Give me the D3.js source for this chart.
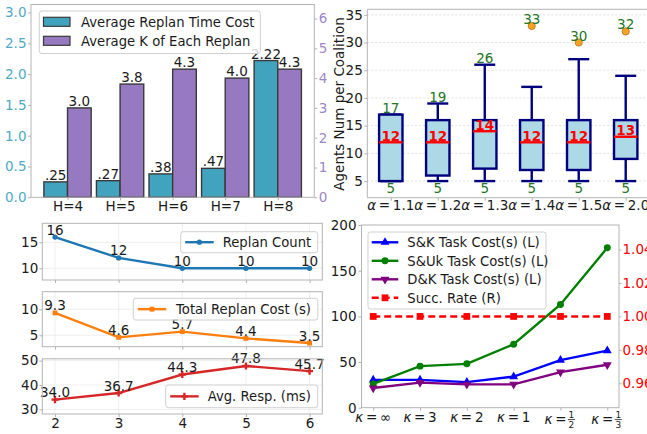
<!DOCTYPE html>
<html>
<head>
<meta charset="utf-8">
<script src="https://cdn.jsdelivr.net/npm/d3@7"></script>
<style>
  html, body { margin: 0; padding: 0; background: #fff; overflow: hidden; }
  svg { display: block; }
</style>
</head>
<body>
<svg id="chart" width="647" height="434"></svg>
<script>
// ---------- data ----------
// (a) replan time cost vs. average K per replan, by horizon H
const horizonLabels = ["H=4", "H=5", "H=6", "H=7", "H=8"];
const replanTimeCost = [0.25, 0.27, 0.38, 0.47, 2.22];
const replanTimeText = [".25", ".27", ".38", ".47", "2.22"];
const avgKPerReplan = [3.0, 3.8, 4.3, 4.0, 4.3];
const timeTicks = [0, 0.5, 1.0, 1.5, 2.0, 2.5, 3.0];
const kTicks = [0, 1, 2, 3, 4, 5, 6];

// (b) agents per coalition for each alpha
const alphaValues = ["1.1", "1.2", "1.3", "1.4", "1.5", "2.0"];
const coalMin = [5, 5, 5, 5, 5, 5];
const coalQ1 = [5, 6, 7.25, 7, 7, 9];
const coalMedian = [12, 12, 14, 12, 12, 13];
const coalQ3 = [17, 16, 16, 16, 16, 16];
const coalMax = [17, 19, 26, 22, 27, 24];
const coalOutliers = [[], [], [], [33], [30], [32]];
const coalTicks = [5, 10, 15, 20, 25, 30, 35];

// (c) replanning statistics vs. step
const stepValues = [2, 3, 4, 5, 6];
const replanCount = [16, 12, 10, 10, 10];
const totalReplanCost = [9.3, 4.6, 5.7, 4.4, 3.5];
const avgResponse = [34.0, 36.7, 44.3, 47.8, 45.7];

// (d) task cost and success rate vs. kappa
const kappaLabels = ["∞", "3", "2", "1", "1/2", "1/3"];
const skCost = [30.5, 30.5, 28, 34, 52, 62.5];
const sukCost = [26, 45.5, 48, 69.5, 113, 175];
const dkCost = [21.5, 27.5, 25.5, 25.5, 39, 47];
const succRate = [1, 1, 1, 1, 1, 1];
const costTicks = [0, 50, 100, 150, 200];
const rateTicks = [0.96, 0.98, 1.00, 1.02, 1.04];

// ---------- shared styling ----------
const FONT = "'DejaVu Sans', sans-serif";
const SPINE = "#b3b3b3";
const INK = "#1a1a1a";
const FS = 13.5;

const svg = d3.select("#chart");
svg.append("rect").attr("width", 647).attr("height", 434).attr("fill", "#fff");

function drawAxis(axisGen, transform, color, size) {
  const g = svg.append("g").attr("transform", transform).call(axisGen);
  g.select(".domain").remove();
  g.selectAll(".tick line").attr("stroke", SPINE).attr("stroke-width", 1);
  g.selectAll(".tick text")
    .attr("fill", color || INK)
    .attr("font-family", FONT)
    .attr("font-size", size || FS);
  return g;
}

function frame(l, t, r, b) {
  svg.append("rect")
    .attr("x", l).attr("y", t).attr("width", r - l).attr("height", b - t)
    .attr("fill", "none").attr("stroke", SPINE).attr("stroke-width", 1);
}

function legendBox(x, y, w, h) {
  svg.append("rect")
    .attr("x", x).attr("y", y).attr("width", w).attr("height", h)
    .attr("rx", 2.5)
    .attr("fill", "#fff").attr("fill-opacity", 0.8)
    .attr("stroke", "#d0d0d0").attr("stroke-width", 1);
}

function label(x, y, str, opts = {}) {
  return svg.append("text")
    .attr("x", x).attr("y", y)
    .attr("text-anchor", opts.anchor || "middle")
    .attr("font-family", FONT)
    .attr("font-size", opts.size || FS)
    .attr("font-weight", opts.weight || "normal")
    .attr("fill", opts.color || INK)
    .text(str);
}

// ---------- (a) grouped bars with twin y axes ----------
{
  const A = { l: 31, r: 314.3, t: 4.5, b: 197.3 };
  const barW = 0.45;
  const x = d3.scaleLinear().domain([-0.695, 4.695]).range([A.l, A.r]);
  const yL = d3.scaleLinear().domain([0, 3.13]).range([A.b, A.t]);
  const yR = d3.scaleLinear().domain([0, 6.47]).range([A.b, A.t]);
  const teal = "#42a3be", purple = "#9679c0";

  const idx = d3.range(horizonLabels.length);
  svg.append("g").selectAll("rect").data(idx).join("rect")
    .attr("x", i => x(i - barW)).attr("width", i => x(i) - x(i - barW))
    .attr("y", i => yL(replanTimeCost[i])).attr("height", i => yL(0) - yL(replanTimeCost[i]))
    .attr("fill", teal).attr("stroke", "#3a3a3a").attr("stroke-width", 1.4);
  svg.append("g").selectAll("rect").data(idx).join("rect")
    .attr("x", i => x(i)).attr("width", i => x(i + barW) - x(i))
    .attr("y", i => yR(avgKPerReplan[i])).attr("height", i => yR(0) - yR(avgKPerReplan[i]))
    .attr("fill", purple).attr("stroke", "#3a3a3a").attr("stroke-width", 1.4);

  idx.forEach(i => {
    label(x(i - barW / 2), yL(replanTimeCost[i]) - 2, replanTimeText[i]);
    label(x(i + barW / 2), yR(avgKPerReplan[i]) - 2, d3.format(".1f")(avgKPerReplan[i]));
  });

  frame(A.l, A.t, A.r, A.b);
  drawAxis(d3.axisLeft(yL).tickValues(timeTicks).tickFormat(d3.format(".1f")).tickSize(3).tickPadding(1.5),
    `translate(${A.l},0)`, "#4eaac3");
  drawAxis(d3.axisRight(yR).tickValues(kTicks).tickFormat(d3.format("d")).tickSize(3).tickPadding(1.5),
    `translate(${A.r},0)`, "#9c88c9");
  drawAxis(d3.axisBottom(x).tickValues(idx).tickFormat(i => horizonLabels[i]).tickSize(3).tickPadding(1),
    `translate(0,${A.b})`);

  // legend
  legendBox(39.3, 11, 221, 42.5);
  [["Average Replan Time Cost", teal], ["Average K of Each Replan", purple]].forEach(([name, c], k) => {
    const cy = 21.8 + k * 19;
    svg.append("rect").attr("x", 43.5).attr("y", cy - 4.5).attr("width", 26.5).attr("height", 9)
      .attr("fill", c).attr("stroke", "#3a3a3a").attr("stroke-width", 1.2);
    label(81, cy + 4.8, name, { anchor: "start", size: 13.2 });
  });
}

// ---------- (b) box plot of coalition sizes ----------
{
  const B = { l: 367.3, r: 649.2, t: 9.3, b: 197.7 };
  const x = d3.scaleLinear().domain([0.5, 6.5]).range([B.l, B.r]);
  const y = d3.scaleLinear().domain([2, 36]).range([B.b, B.t]);
  const navy = "#00007f", green = "#247524";
  const half = 11.7, capHalf = 10.5;

  svg.append("g").selectAll("line").data(coalTicks).join("line")
    .attr("x1", B.l).attr("x2", B.r).attr("y1", d => y(d)).attr("y2", d => y(d))
    .attr("stroke", "#d9d9d9").attr("stroke-width", 0.8).attr("stroke-dasharray", "2,2");

  alphaValues.forEach((a, i) => {
    const cx = x(i + 1);
    const g = svg.append("g");
    const seg = (x1, y1, x2, y2, c, w) => g.append("line")
      .attr("x1", x1).attr("y1", y1).attr("x2", x2).attr("y2", y2)
      .attr("stroke", c).attr("stroke-width", w);
    seg(cx, y(coalMin[i]), cx, y(coalQ1[i]), navy, 2.4);
    seg(cx, y(coalQ3[i]), cx, y(coalMax[i]), navy, 2.4);
    seg(cx - capHalf, y(coalMin[i]), cx + capHalf, y(coalMin[i]), navy, 2.4);
    seg(cx - capHalf, y(coalMax[i]), cx + capHalf, y(coalMax[i]), navy, 2.4);
    g.append("rect")
      .attr("x", cx - half).attr("width", 2 * half)
      .attr("y", y(coalQ3[i])).attr("height", y(coalQ1[i]) - y(coalQ3[i]))
      .attr("fill", "#add8e6").attr("stroke", navy).attr("stroke-width", 2.4);
    seg(cx - half, y(coalMedian[i]), cx + half, y(coalMedian[i]), "#ff0000", 2.4);
    coalOutliers[i].forEach(o => {
      g.append("circle").attr("cx", cx).attr("cy", y(o)).attr("r", 3.6)
        .attr("fill", "#f6a421").attr("stroke", "#b87016").attr("stroke-width", 0.8);
    });
    const top = d3.max([coalMax[i], ...coalOutliers[i]]);
    label(cx, y(top) - 2, String(top), { color: green });
    label(cx, y(coalMin[i]) + 12, String(coalMin[i]), { color: green });
    label(cx, y(coalMedian[i]) - 1.5, String(coalMedian[i]), { color: "#ff0000", weight: "bold" });
  });

  svg.append("line").attr("x1", B.l).attr("x2", B.r).attr("y1", B.t).attr("y2", B.t).attr("stroke", SPINE);
  svg.append("line").attr("x1", B.l).attr("x2", B.r).attr("y1", B.b).attr("y2", B.b).attr("stroke", SPINE);
  svg.append("line").attr("x1", B.l).attr("x2", B.l).attr("y1", B.t).attr("y2", B.b).attr("stroke", SPINE);

  drawAxis(d3.axisLeft(y).tickValues(coalTicks).tickFormat(d3.format("d")).tickSize(3).tickPadding(1.5),
    `translate(${B.l},0)`);
  drawAxis(d3.axisBottom(x).tickValues(d3.range(1, 7)).tickFormat("").tickSize(3),
    `translate(0,${B.b})`);
  alphaValues.forEach((a, i) => {
    const t = svg.append("text").attr("x", x(i + 1)).attr("y", 210.3)
      .attr("text-anchor", "middle").attr("font-family", FONT).attr("font-size", FS).attr("fill", INK);
    t.append("tspan").attr("font-style", "italic").text("α");
    t.append("tspan").text("\u2009=\u2009" + a);
  });

  svg.append("text")
    .attr("transform", "translate(344,104) rotate(-90)")
    .attr("text-anchor", "middle").attr("font-family", FONT).attr("font-size", FS).attr("fill", INK)
    .text("Agents Num per Coalition");
}

// ---------- (c) three stacked line panels ----------
{
  const C = { l: 42.3, r: 322.3 };
  const x = d3.scaleLinear().domain([1.8, 6.2]).range([C.l, C.r]);
  const panels = [
    { values: replanCount, name: "Replan Count", color: "#1f77b4", marker: "dot",
      top: 223.3, bottom: 280, domain: [7.75, 18.65], ticks: [10, 15], fmt: d3.format("d"),
      legend: { x: 180.7, y: 231.7, w: 137, h: 21, text: 222.7 } },
    { values: totalReplanCost, name: "Total Replan Cost (s)", color: "#ff7f0e", marker: "square",
      top: 291.7, bottom: 346.7, domain: [2.8, 13.38], ticks: [5, 10], fmt: d3.format(".1f"),
      legend: { x: 133.3, y: 298.3, w: 184.5, h: 21.7, text: 176 } },
    { values: avgResponse, name: "Avg. Resp. (ms)", color: "#d62728", marker: "plus",
      top: 358.8, bottom: 414, domain: [28.1, 50.75], ticks: [30, 40, 50], fmt: d3.format(".1f"),
      legend: { x: 165.7, y: 385, w: 152, h: 22.7, text: 207.7 } }
  ];

  const markerPath = {
    dot: d3.symbol(d3.symbolCircle, 22)(),
    square: d3.symbol(d3.symbolSquare, 24)(),
    plus: d3.symbol(d3.symbolCross, 28)()
  };

  panels.forEach((p, k) => {
    const y = d3.scaleLinear().domain(p.domain).range([p.bottom, p.top]);
    // grid
    svg.append("g").selectAll("line").data(stepValues).join("line")
      .attr("x1", d => x(d)).attr("x2", d => x(d)).attr("y1", p.top).attr("y2", p.bottom)
      .attr("stroke", "#ebebeb").attr("stroke-width", 0.8);
    svg.append("g").selectAll("line").data(p.ticks).join("line")
      .attr("x1", C.l).attr("x2", C.r).attr("y1", d => y(d)).attr("y2", d => y(d))
      .attr("stroke", "#ebebeb").attr("stroke-width", 0.8);

    const pts = stepValues.map((s, i) => [x(s), y(p.values[i])]);
    svg.append("path").attr("d", d3.line()(pts))
      .attr("fill", "none").attr("stroke", p.color).attr("stroke-width", 2.4);
    svg.append("g").selectAll("path").data(pts).join("path")
      .attr("transform", d => `translate(${d[0]},${d[1]})`)
      .attr("d", markerPath[p.marker]).attr("fill", p.color);

    pts.forEach((d, i) => label(d[0], d[1] - 2.5, p.fmt(p.values[i])));

    frame(C.l, p.top, C.r, p.bottom);
    drawAxis(d3.axisLeft(y).tickValues(p.ticks).tickFormat(d3.format("d")).tickSize(3).tickPadding(1),
      `translate(${C.l},0)`);
    drawAxis(d3.axisBottom(x).tickValues(stepValues).tickFormat(k === 2 ? d3.format("d") : "")
      .tickSize(3).tickPadding(1.5), `translate(0,${p.bottom})`);

    // legend
    const L = p.legend;
    legendBox(L.x, L.y, L.w, L.h);
    const ly = L.y + L.h / 2;
    svg.append("line").attr("x1", L.x + 4.5).attr("x2", L.x + 33).attr("y1", ly).attr("y2", ly)
      .attr("stroke", p.color).attr("stroke-width", 2.4);
    svg.append("path").attr("transform", `translate(${L.x + 18.7},${ly})`)
      .attr("d", markerPath[p.marker]).attr("fill", p.color);
    label(L.text, ly + 4.8, p.name, { anchor: "start", size: 13.2 });
  });
}

// ---------- (d) task cost (left) and success rate (right) ----------
{
  const D = { l: 361.5, r: 619, t: 225, b: 407.7 };
  const x = d3.scaleLinear().domain([-0.25, 5.25]).range([D.l, D.r]);
  const yL = d3.scaleLinear().domain([0, 200]).range([D.b, D.t]);
  const yR = d3.scaleLinear().domain([0.9454, 1.0547]).range([D.b, D.t]);
  const idx = d3.range(kappaLabels.length);

  const series = [
    { name: "S&K Task Cost(s) (L)", values: skCost, color: "#0000ff", y: yL,
      marker: d3.symbol(d3.symbolTriangle, 34)(), rot: 0 },
    { name: "S&Uk Task Cost(s) (L)", values: sukCost, color: "#008000", y: yL,
      marker: d3.symbol(d3.symbolCircle, 38)(), rot: 0 },
    { name: "D&K Task Cost(s) (L)", values: dkCost, color: "#800080", y: yL,
      marker: d3.symbol(d3.symbolTriangle, 34)(), rot: 180 },
    { name: "Succ. Rate (R)", values: succRate, color: "#ff0000", y: yR, dash: "7,4",
      marker: d3.symbol(d3.symbolSquare, 46)(), rot: 0 }
  ];

  series.forEach(s => {
    const pts = idx.map(i => [x(i), s.y(s.values[i])]);
    svg.append("path").attr("d", d3.line()(pts))
      .attr("fill", "none").attr("stroke", s.color).attr("stroke-width", 2.4)
      .attr("stroke-dasharray", s.dash || null);
    svg.append("g").selectAll("path").data(pts).join("path")
      .attr("transform", d => `translate(${d[0]},${d[1]}) rotate(${s.rot})`)
      .attr("d", s.marker).attr("fill", s.color);
  });

  frame(D.l, D.t, D.r, D.b);
  drawAxis(d3.axisLeft(yL).tickValues(costTicks).tickFormat(d3.format("d")).tickSize(3).tickPadding(2),
    `translate(${D.l},0)`);
  drawAxis(d3.axisRight(yR).tickValues(rateTicks).tickFormat(d3.format(".2f")).tickSize(2.5).tickPadding(1),
    `translate(${D.r},0)`, "#ff0000");
  drawAxis(d3.axisBottom(x).tickValues(idx).tickFormat("").tickSize(3), `translate(0,${D.b})`);

  idx.forEach(i => {
    const cx = x(i);
    const lab = kappaLabels[i];
    if (lab.includes("/")) {
      const [num, den] = lab.split("/");
      const t = svg.append("text").attr("x", cx - 16).attr("y", 423.5)
        .attr("font-family", FONT).attr("font-size", FS).attr("fill", INK);
      t.append("tspan").attr("font-style", "italic").text("κ");
      t.append("tspan").text("\u2009=");
      const fx = cx + 11;
      label(fx, 417.8, num, { size: 9 });
      svg.append("line").attr("x1", fx - 3.5).attr("x2", fx + 3.5).attr("y1", 419.6).attr("y2", 419.6)
        .attr("stroke", INK).attr("stroke-width", 0.8);
      label(fx, 428.3, den, { size: 9 });
    } else {
      const t = svg.append("text").attr("x", cx).attr("y", 421.5).attr("text-anchor", "middle")
        .attr("font-family", FONT).attr("font-size", FS).attr("fill", INK);
      t.append("tspan").attr("font-style", "italic").text("κ");
      t.append("tspan").text("\u2009=\u2009" + lab);
    }
  });

  // legend
  legendBox(368, 232, 178, 77);
  series.forEach((s, k) => {
    const ly = 242.3 + k * 18.5;
    svg.append("line").attr("x1", 371.7).attr("x2", 398.3).attr("y1", ly).attr("y2", ly)
      .attr("stroke", s.color).attr("stroke-width", 2.4).attr("stroke-dasharray", s.dash || null);
    svg.append("path").attr("transform", `translate(385,${ly}) rotate(${s.rot})`)
      .attr("d", s.marker).attr("fill", s.color);
    label(407.3, ly + 4.8, s.name, { anchor: "start", size: 13.2 });
  });
}
</script>
</body>
</html>
